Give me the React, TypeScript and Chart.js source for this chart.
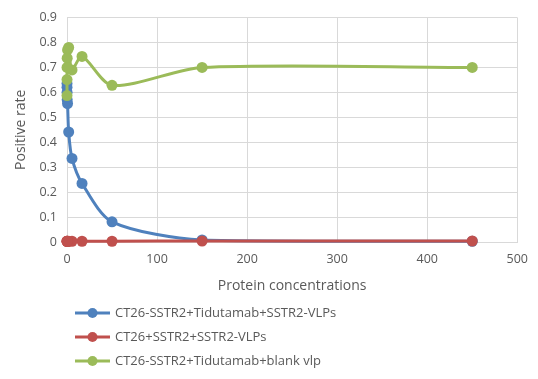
import React, { useEffect, useRef } from "react";
import { Chart, registerables } from "chart.js";

Chart.register(...registerables);

const concentrations = [450, 150, 50, 16.67, 5.56, 1.85, 0.617, 0.206, 0.0686, 0.0229, 0.0076];
const seriesLabels = [
  "CT26-SSTR2+Tidutamab+SSTR2-VLPs",
  "CT26+SSTR2+SSTR2-VLPs",
  "CT26-SSTR2+Tidutamab+blank vlp",
];
const tidutamabVlpRate = [0.003, 0.008, 0.081, 0.235, 0.335, 0.441, 0.555, 0.57, 0.6, 0.62, 0.635];
const ct26VlpRate = [0.004, 0.004, 0.003, 0.003, 0.003, 0.003, 0.002, 0.003, 0.003, 0.003, 0.003];
const tidutamabBlankRate = [0.7, 0.7, 0.628, 0.744, 0.69, 0.78, 0.77, 0.737, 0.7, 0.651, 0.587];
const seriesColors = ["#4F81BD", "#C0504D", "#9BBB59"];
const drawOrder = [2, 1, 0];

const FONT = "'Open Sans', 'DejaVu Sans', sans-serif";
const TEXT = "#595959";

const legendPlugin = {
  id: "columnLegend",
  afterDraw(chart: any) {
    const ctx = chart.ctx;
    const rows = [313, 337, 361];
    ctx.save();
    chart.data.datasets.forEach((ds: any, i: number) => {
      const y = rows[i];
      ctx.strokeStyle = ds.borderColor;
      ctx.lineWidth = 3;
      ctx.beginPath();
      ctx.moveTo(75, y);
      ctx.lineTo(110, y);
      ctx.stroke();
      ctx.fillStyle = ds.backgroundColor;
      ctx.beginPath();
      ctx.arc(92.5, y, 5, 0, Math.PI * 2);
      ctx.fill();
      ctx.fillStyle = TEXT;
      ctx.font = `13px ${FONT}`;
      ctx.textBaseline = "middle";
      ctx.textAlign = "left";
      ctx.fillText(ds.label, 115, y);
    });
    ctx.restore();
  },
};

export default function App() {
  const ref = useRef<HTMLCanvasElement | null>(null);

  useEffect(() => {
    document.body.style.margin = "0";
    const mk = (vals: number[]) => concentrations.map((x, i) => ({ x, y: vals[i] }));
    const all = [tidutamabVlpRate, ct26VlpRate, tidutamabBlankRate];
    const chart = new Chart(ref.current as HTMLCanvasElement, {
      type: "scatter",
      data: {
        datasets: all.map((vals, i) => ({
          label: seriesLabels[i],
          data: mk(vals),
          showLine: true,
          tension: 0.28,
          clip: false,
          order: drawOrder[i],
          borderColor: seriesColors[i],
          backgroundColor: seriesColors[i],
          borderWidth: 3,
          pointRadius: 5.5,
          pointBorderWidth: 0,
          pointBackgroundColor: seriesColors[i],
        })),
      },
      plugins: [legendPlugin],
      options: {
        animation: false,
        responsive: true,
        maintainAspectRatio: false,
        layout: { padding: { top: 9, right: 9, bottom: 85, left: 0 } },
        plugins: {
          legend: { display: false },
          tooltip: { enabled: false },
        },
        scales: {
          x: {
            type: "linear",
            min: 0,
            max: 500,
            ticks: { stepSize: 100, color: TEXT, font: { family: FONT, size: 12.5 }, padding: 10 },
            grid: { color: "#d9d9d9", drawTicks: false },
            border: { color: "#d9d9d9" },
            title: {
              display: true,
              text: "Protein concentrations",
              color: TEXT,
              font: { family: FONT, size: 14 },
              padding: { top: 0, bottom: 0 },
            },
            afterFit: (s: any) => {
              s.height = 52;
            },
          },
          y: {
            min: 0,
            max: 0.9,
            ticks: { stepSize: 0.1, color: TEXT, font: { family: FONT, size: 12.5 }, padding: 10 },
            grid: { color: "#d9d9d9", drawTicks: false },
            border: { color: "#d9d9d9" },
            title: {
              display: true,
              text: "Positive rate",
              color: TEXT,
              font: { family: FONT, size: 14 },
              padding: { top: 13, bottom: 0 },
            },
            afterFit: (s: any) => {
              s.width = 67;
            },
          },
        },
      },
    } as any);
    return () => chart.destroy();
  }, []);

  return (
    <div style={{ width: 538, height: 379, position: "relative", background: "#fff" }}>
      <canvas ref={ref} />
    </div>
  );
}
